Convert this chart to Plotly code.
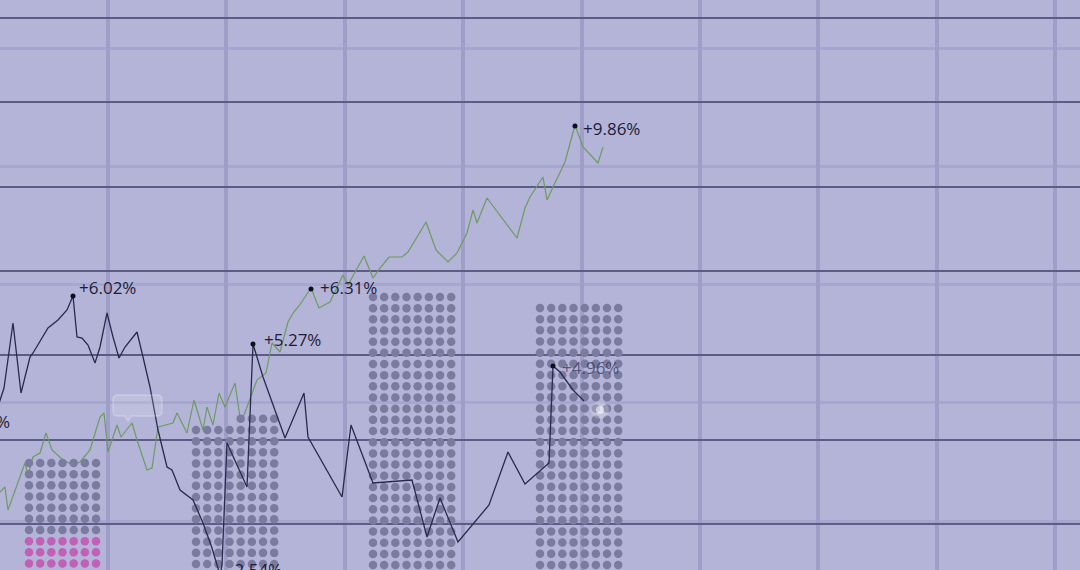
import numpy as np
import plotly.graph_objects as go

# ---------------- data (x = time position, y = level, axis reversed) ----
dark_x = [-8, 0, 4, 13, 21, 30, 33, 48, 58, 67, 73, 77, 82, 88, 95, 100, 107, 113, 119, 125,
          137, 143, 150, 158, 167, 172, 180, 193, 203, 212, 220, 222, 227, 247, 253, 263, 285,
          304, 308, 342, 351, 373, 412, 427, 440, 458, 489, 508, 525, 549, 553, 560, 573, 584]
dark_y = [425, 400, 388, 323, 393, 357, 353, 328, 320, 310, 296, 337, 338, 345, 363, 347, 313,
          337, 358, 347, 332, 357, 387, 430, 467, 470, 490, 500, 523, 548, 575, 565, 443, 487,
          344, 377, 438, 393, 437, 497, 425, 483, 480, 537, 498, 542, 505, 452, 484, 463, 366,
          372, 390, 401]

green_x = [0, 5, 8, 15, 25, 28, 33, 40, 46, 52, 63, 73, 80, 90, 100, 104, 108, 117, 121, 132,
           137, 147, 152, 158, 173, 177, 187, 194, 203, 207, 213, 219, 225, 235, 240, 244, 253,
           257, 266, 272, 280, 288, 293, 299, 311, 319, 330, 335, 343, 348, 364, 373, 380, 389,
           402, 408, 415, 426, 436, 448, 457, 467, 473, 477, 487, 517, 525, 530, 543, 547, 553,
           565, 575, 583, 598, 603]
green_y = [492, 487, 510, 490, 463, 475, 457, 453, 433, 450, 460, 465, 462, 450, 417, 413, 452,
           425, 437, 423, 440, 470, 468, 427, 423, 413, 433, 400, 430, 407, 425, 393, 407, 383,
           417, 415, 390, 380, 373, 343, 352, 322, 313, 306, 288, 308, 302, 292, 275, 285, 256,
           278, 268, 257, 257, 252, 240, 222, 250, 262, 253, 233, 210, 223, 198, 238, 208, 197,
           177, 200, 187, 162, 125, 147, 163, 147]

# labelled points
pt_x = [73, 253, 311, 575, 553]
pt_y = [296, 344, 289, 126, 366]

lab_text = ["+6.02%", "+5.27%", "+6.31%", "+9.86%", "-2.54%"]
lab_x = [79, 264, 320, 583, 229]
lab_y = [290, 342, 290, 131, 572]

under_text = ["+4.96%"]
under_x = [562]
under_y = [370]

edge_text = ["+4.41%"]
edge_x = [10]
edge_y = [424]

# dot-matrix bars
bar_x0 = [29, 196, 373, 540]
bar_cols = [7, 8, 8, 8]
bar_top = [463, 430, 297, 308]
bar_rows = [10, 13, 25, 24]
bar_pink_rows = [3, 0, 0, 0]
bar_extra = [0, 4, 0, 0]      # partial row above the bar (right-aligned dots)
PITCH = 11.17

# ---------------- styling ----------------
BG = "#b4b4d8"
FONT = "Open Sans"

fig = go.Figure()

# green line
fig.add_trace(go.Scatter(x=green_x, y=green_y, mode="lines",
                         line=dict(color="#6f9a62", width=1.2), hoverinfo="skip"))

# dots
gx, gy, px_, py_ = [], [], [], []
for x0, nc, top, nr, npk, ne in zip(bar_x0, bar_cols, bar_top, bar_rows, bar_pink_rows, bar_extra):
    cols = x0 + PITCH * np.arange(nc)
    rows = top + PITCH * np.arange(nr)
    for ri, yv in enumerate(rows):
        for xv in cols:
            if ri >= nr - npk:
                px_.append(xv); py_.append(yv)
            else:
                gx.append(xv); gy.append(yv)
    if ne:
        for xv in cols[nc - ne:]:
            gx.append(xv); gy.append(top - PITCH)

fig.add_trace(go.Scatter(x=gx, y=gy, mode="markers",
                         marker=dict(color="#7b7ba0", size=8.5, line=dict(width=0)),
                         hoverinfo="skip"))
fig.add_trace(go.Scatter(x=px_, y=py_, mode="markers",
                         marker=dict(color="#c160b4", size=8.5, line=dict(width=0)),
                         hoverinfo="skip"))

# label partly veiled by the dots
fig.add_trace(go.Scatter(x=under_x, y=under_y, text=under_text, mode="text",
                         textposition="middle right",
                         textfont=dict(family=FONT, size=17, color="rgba(45,45,80,0.7)"),
                         hoverinfo="skip"))

# glow spot
fig.add_trace(go.Scatter(x=[600], y=[410], mode="markers",
                         marker=dict(color="rgba(255,255,255,0.22)", size=18, line=dict(width=0)),
                         hoverinfo="skip"))
fig.add_trace(go.Scatter(x=[600], y=[410], mode="markers",
                         marker=dict(color="rgba(255,255,255,0.55)", size=8, line=dict(width=0)),
                         hoverinfo="skip"))

# dark line
fig.add_trace(go.Scatter(x=dark_x, y=dark_y, mode="lines",
                         line=dict(color="#2a2a4c", width=1.3), hoverinfo="skip"))

# point markers
fig.add_trace(go.Scatter(x=pt_x, y=pt_y, mode="markers",
                         marker=dict(color="#0e0e1e", size=5, line=dict(width=0)),
                         hoverinfo="skip"))

# labels
fig.add_trace(go.Scatter(x=lab_x, y=lab_y, text=lab_text, mode="text",
                         textposition="middle right",
                         textfont=dict(family=FONT, size=17, color="#1c1c38"),
                         hoverinfo="skip"))
fig.add_trace(go.Scatter(x=edge_x, y=edge_y, text=edge_text, mode="text",
                         textposition="middle left",
                         textfont=dict(family=FONT, size=17, color="#1c1c38"),
                         hoverinfo="skip"))

# faint speech bubble
fig.add_shape(type="path", xref="x", yref="y",
              path="M 118,395 L 157,395 Q 162,395 162,400 L 162,411 Q 162,416 157,416 "
                   "L 131,416 L 128,421 L 125,416 L 118,416 Q 113,416 113,411 L 113,400 "
                   "Q 113,395 118,395 Z",
              fillcolor="rgba(255,255,255,0.14)", line=dict(color="rgba(255,255,255,0.25)", width=1.5),
              layer="above")

fig.update_layout(
    width=1080, height=570,
    margin=dict(l=0, r=0, t=0, b=0),
    paper_bgcolor=BG, plot_bgcolor=BG,
    showlegend=False,
    xaxis=dict(range=[0, 1080], showticklabels=False, ticks="", zeroline=False,
               showgrid=True, tick0=108, dtick=118.4, gridcolor="#9e9ec8", gridwidth=4,
               fixedrange=True),
    yaxis=dict(range=[570, 0], showticklabels=False, ticks="", zeroline=False,
               showgrid=True, tick0=18, dtick=84.3, gridcolor="#5c5c86", gridwidth=1.8,
               minor=dict(tick0=48, dtick=118.3, showgrid=True, gridcolor="#a6a6ce", gridwidth=3),
               fixedrange=True),
)

fig.write_html("out.html", config={"displayModeBar": False},
               post_script="document.body.style.margin='0';document.body.style.overflow='hidden';")
